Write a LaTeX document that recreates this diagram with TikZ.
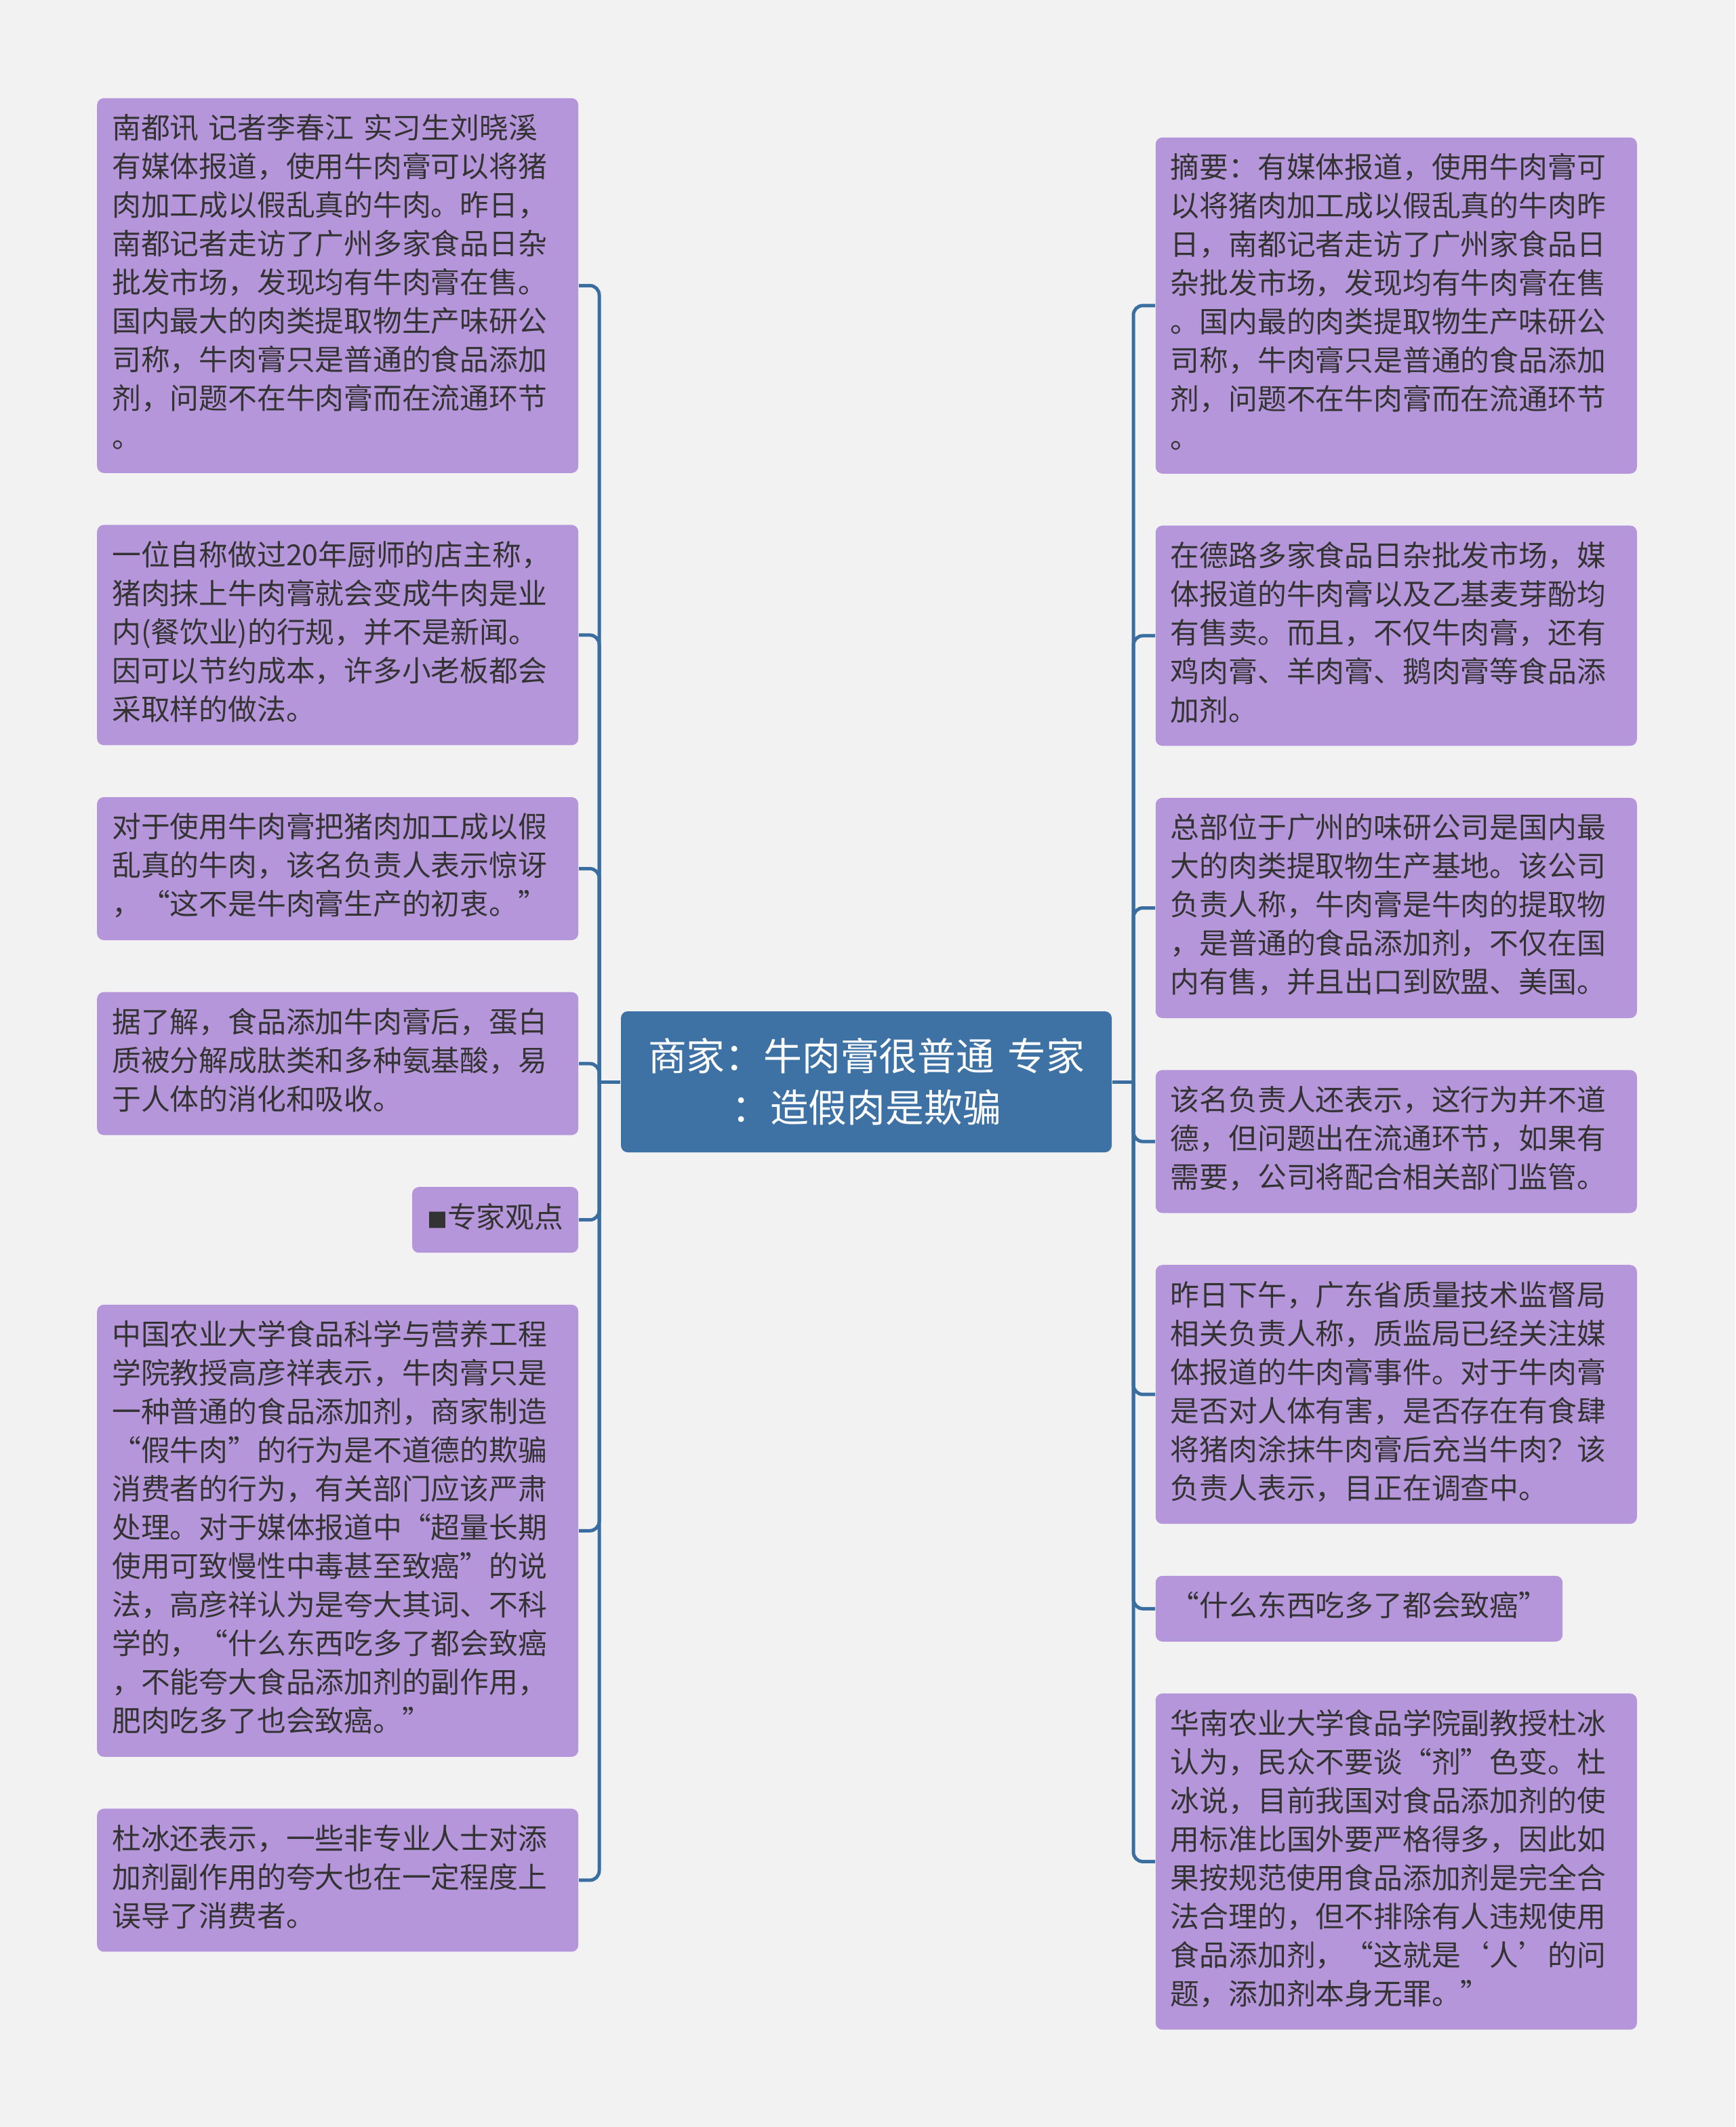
\documentclass[tikz,border=0pt]{standalone}
\usepackage{fontspec}
\setmainfont{Noto Sans CJK SC}
\usetikzlibrary{positioning}
\definecolor{leaffill}{HTML}{B696DA}
\definecolor{hubfill}{HTML}{3E72A5}
\definecolor{linkc}{HTML}{3A6EA0}
\definecolor{txt}{HTML}{333333}
\definecolor{bgc}{HTML}{F2F2F2}
\tikzset{
  box/.style ={rectangle, fill=leaffill, text=txt, rounded corners=2.5pt,
               font=\fontsize{10.7}{14.25}\selectfont, align=left,
               inner xsep=5.5pt, inner ysep=5pt,
               execute at begin node=\strut, execute at end node=\strut},
  leaf/.style={box, text width=166.5pt},
  hub/.style ={rectangle, fill=hubfill, text=white, rounded corners=2.5pt,
               font=\fontsize{14.2}{19}\selectfont, text width=165pt,
               align=center, inner sep=8pt, minimum height=52pt},
  lnk/.style ={draw=linkc, line width=1.25pt, rounded corners=3.5pt}
}
\begin{document}
\begin{tikzpicture}[node distance=18.75pt]
    \path[use as bounding box, fill=bgc] (0,0) rectangle (640pt,-784.5pt);
    \node[hub] (root) at (319.5pt,-399pt) {商家：牛肉膏很普通 专家\\：造假肉是欺骗};
    % left side
    \node[leaf, anchor=north east] (l1) at (213.5pt,-36pt) {南都讯 记者李春江 实习生刘晓溪\\有媒体报道，使用牛肉膏可以将猪\\肉加工成以假乱真的牛肉。昨日，\\南都记者走访了广州多家食品日杂\\批发市场，发现均有牛肉膏在售。\\国内最大的肉类提取物生产味研公\\司称，牛肉膏只是普通的食品添加\\剂，问题不在牛肉膏而在流通环节\\。};
    \node[leaf, below=of l1.south east, anchor=north east] (l2) {一位自称做过20年厨师的店主称，\\猪肉抹上牛肉膏就会变成牛肉是业\\内(餐饮业)的行规，并不是新闻。\\因可以节约成本，许多小老板都会\\采取样的做法。};
    \node[leaf, below=of l2.south east, anchor=north east] (l3) {对于使用牛肉膏把猪肉加工成以假\\乱真的牛肉，该名负责人表示惊讶\\，“这不是牛肉膏生产的初衷。”};
    \node[leaf, below=of l3.south east, anchor=north east] (l4) {据了解，食品添加牛肉膏后，蛋白\\质被分解成肽类和多种氨基酸，易\\于人体的消化和吸收。};
    \node[box, below=of l4.south east, anchor=north east] (l5) {{\fontsize{7.5}{7.5}\selectfont ■}专家观点};
    \node[leaf, below=of l5.south east, anchor=north east] (l6) {中国农业大学食品科学与营养工程\\学院教授高彦祥表示，牛肉膏只是\\一种普通的食品添加剂，商家制造\\“假牛肉”的行为是不道德的欺骗\\消费者的行为，有关部门应该严肃\\处理。对于媒体报道中“超量长期\\使用可致慢性中毒甚至致癌”的说\\法，高彦祥认为是夸大其词、不科\\学的，“什么东西吃多了都会致癌\\，不能夸大食品添加剂的副作用，\\肥肉吃多了也会致癌。”};
    \node[leaf, below=of l6.south east, anchor=north east] (l7) {杜冰还表示，一些非专业人士对添\\加剂副作用的夸大也在一定程度上\\误导了消费者。};
    % right side
    \node[leaf, anchor=north west] (r1) at (426pt,-50.5pt) {摘要：有媒体报道，使用牛肉膏可\\以将猪肉加工成以假乱真的牛肉昨\\日，南都记者走访了广州家食品日\\杂批发市场，发现均有牛肉膏在售\\。国内最的肉类提取物生产味研公\\司称，牛肉膏只是普通的食品添加\\剂，问题不在牛肉膏而在流通环节\\。};
    \node[leaf, below=of r1.south west, anchor=north west] (r2) {在德路多家食品日杂批发市场，媒\\体报道的牛肉膏以及乙基麦芽酚均\\有售卖。而且，不仅牛肉膏，还有\\鸡肉膏、羊肉膏、鹅肉膏等食品添\\加剂。};
    \node[leaf, below=of r2.south west, anchor=north west] (r3) {总部位于广州的味研公司是国内最\\大的肉类提取物生产基地。该公司\\负责人称，牛肉膏是牛肉的提取物\\，是普通的食品添加剂，不仅在国\\内有售，并且出口到欧盟、美国。};
    \node[leaf, below=of r3.south west, anchor=north west] (r4) {该名负责人还表示，这行为并不道\\德，但问题出在流通环节，如果有\\需要，公司将配合相关部门监管。};
    \node[leaf, below=of r4.south west, anchor=north west] (r5) {昨日下午，广东省质量技术监督局\\相关负责人称，质监局已经关注媒\\体报道的牛肉膏事件。对于牛肉膏\\是否对人体有害，是否存在有食肆\\将猪肉涂抹牛肉膏后充当牛肉？该\\负责人表示，目正在调查中。};
    \node[box, below=of r5.south west, anchor=north west] (r6) {“什么东西吃多了都会致癌”};
    \node[leaf, below=of r6.south west, anchor=north west] (r7) {华南农业大学食品学院副教授杜冰\\认为，民众不要谈“剂”色变。杜\\冰说，目前我国对食品添加剂的使\\用标准比国外要严格得多，因此如\\果按规范使用食品添加剂是完全合\\法合理的，但不排除有人违规使用\\食品添加剂，“这就是‘人’的问\\题，添加剂本身无罪。”};
    % links
    \coordinate[left=7.8pt of root.west] (lj);
    \coordinate[right=7.8pt of root.east] (rj);
    \draw[lnk] (root.west) -- (lj);
    \draw[lnk] (root.east) -- (rj);
    \draw[lnk] (lj) |- (l1.east);
    \draw[lnk] (lj) |- (l2.east);
    \draw[lnk] (lj) |- (l3.east);
    \draw[lnk] (lj) |- (l4.east);
    \draw[lnk] (lj) |- (l5.east);
    \draw[lnk] (lj) |- (l6.east);
    \draw[lnk] (lj) |- (l7.east);
    \draw[lnk] (rj) |- (r1.west);
    \draw[lnk] (rj) |- (r2.west);
    \draw[lnk] (rj) |- (r3.west);
    \draw[lnk] (rj) |- (r4.west);
    \draw[lnk] (rj) |- (r5.west);
    \draw[lnk] (rj) |- (r6.west);
    \draw[lnk] (rj) |- (r7.west);
  \end{tikzpicture}
\end{document}
